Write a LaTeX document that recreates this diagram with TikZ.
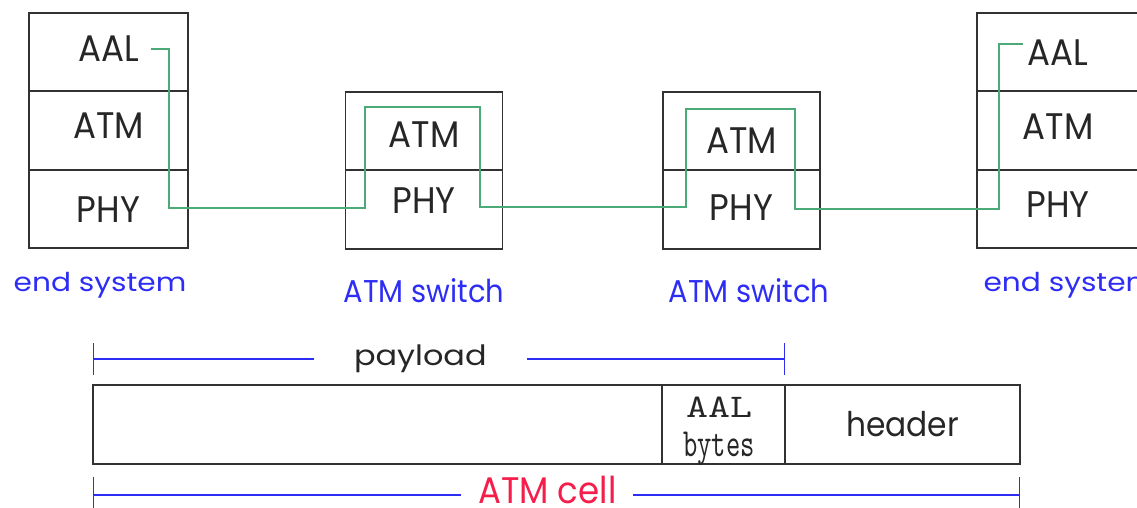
\documentclass[tikz,border=0pt]{standalone}
\usepackage{fontspec}
\setmainfont{Poppins}
\newfontfamily\narrowfont{Poppins}[FakeStretch=0.92]
\newfontfamily\widefont{Poppins}[FakeStretch=1.14]
\newfontfamily\aalfont{lmmono10-regular.otf}[FakeStretch=1.27]
\newfontfamily\bytesfont{lmmono10-regular.otf}[FakeStretch=0.68]
\usetikzlibrary{calc,positioning,arrows.meta}
\definecolor{framegray}{RGB}{50,50,50}
\definecolor{routegreen}{RGB}{75,170,120}
\definecolor{labelblue}{RGB}{45,45,245}
\definecolor{cellred}{RGB}{245,30,75}

\tikzset{
  layer/.style={draw=framegray, line width=1.8pt, inner sep=0pt, outer sep=0pt,
    minimum height=78.5pt, text height=26pt, text depth=0pt, text=black!85,
    font=\narrowfont\fontsize{37}{40}\selectfont},
  endlayer/.style={layer, minimum width=159pt},
  swlayer/.style={layer, minimum width=157pt},
  endname/.style={text=labelblue, anchor=base, font=\widefont\fontsize{26}{28}\selectfont},
  swname/.style={text=labelblue, anchor=base, font=\narrowfont\fontsize{31.5}{33}\selectfont},
  cellpart/.style={draw=framegray, line width=1.6pt, inner sep=0pt, outer sep=0pt,
    minimum height=79pt, text=black!85},
  route/.style={routegreen, line width=2pt},
  span/.style={labelblue, line width=1.4pt, {Bar[width=32pt]}-{Bar[width=32pt]}},
}

\begin{document}
\begin{tikzpicture}[x=1pt, y=-1pt]
  \useasboundingbox (0,0) rectangle (1137,507);
  \clip (0,0) rectangle (1137,507);

  % End system (left)
  \node[endlayer, text depth=7pt] (aalL) at (108.5,52) {AAL};
  \node[endlayer, text depth=11pt, below=0pt of aalL] (atmL) {ATM};
  \node[endlayer, below=0pt of atmL] (phyL) {PHY};
  \node[endname] (nameL) at (100,291) {end system};

  % ATM switches
  \node[swlayer, text height=33pt] (atmA) at (424,131) {ATM};
  \node[swlayer, text depth=18pt, below=0pt of atmA] (phyA) {PHY};
  \node[swname] (nameA) at (424,302) {ATM switch};

  \node[swlayer, text height=44pt] (atmB) at (741.5,131) {ATM};
  \node[swlayer, text depth=4pt, below=0pt of atmB] (phyB) {PHY};
  \node[swname] (nameB) at (749,302) {ATM switch};

  % End system (right), cut by the edge
  \node[endlayer, minimum width=162pt] (aalR) at (1058,52) {AAL};
  \node[endlayer, minimum width=162pt, text depth=8pt, below=0pt of aalR] (atmR) {ATM};
  \node[endlayer, minimum width=162pt, text depth=10pt, below=0pt of atmR] (phyR) {PHY};
  \node[endname, anchor=base west] (nameR) at (980,291) {end system};

  % Path through the layers
  \coordinate (routeIn) at ($(aalL.east)+(-37,-3)$);
  \coordinate (routeOut) at ($(aalR.west)+(46,-8)$);
  \draw[route] (routeIn)
    -| ($(phyL.east)+(-19,-1)$)
    -| ($(atmA.north west)+(19.5,15.25)$)
    -| ($(phyA.east)+(-22.5,-2.5)$)
    -| ($(atmB.north west)+(23,17.25)$)
    -| ($(phyB.east)+(-25,-0.5)$)
    -| ($(aalR.west)+(22,-8)$)
    -- (routeOut);

  % ATM cell
  \node[cellpart, minimum width=569pt] (payloadcell) at (377.5,424.5) {};
  \node[cellpart, minimum width=123pt, right=0pt of payloadcell] (aalcell) {};
  \node[cellpart, minimum width=235pt, right=0pt of aalcell,
    font=\narrowfont\fontsize{34}{36}\selectfont] (headercell) {header};
  \node[align=center, inner sep=0pt, text=black!85, font=\fontsize{36}{39}\selectfont]
    (aaltext) at ($(aalcell.center)+(-4.5,6.5)$)
    {{\aalfont\fontsize{33}{39}\selectfont AAL}\\{\bytesfont\fontsize{40}{39}\selectfont bytes}};

  % Spans
  \coordinate (payStart) at ($(payloadcell.north west)+(0,-26)$);
  \coordinate (payEnd) at ($(aalcell.north east)+(0,-26)$);
  \draw[span] (payStart) -- node[pos=0.473, fill=white, inner xsep=40pt,
    text=black!85, font=\widefont\fontsize{28}{30}\selectfont] (paylabel) {payload} (payEnd);

  \coordinate (cellStart) at ($(payloadcell.south west)+(0,31)$);
  \coordinate (cellEnd) at ($(headercell.south east)+(0,31)$);
  \draw[span, {Bar[width=36pt]}-{Bar[width=36pt]}] (cellStart) -- node[pos=0.49, fill=white,
    inner xsep=17pt, yshift=5.5pt, text=cellred, font=\narrowfont\fontsize{37}{39}\selectfont]
    (celllabel) {ATM cell} (cellEnd);
\end{tikzpicture}
\end{document}
